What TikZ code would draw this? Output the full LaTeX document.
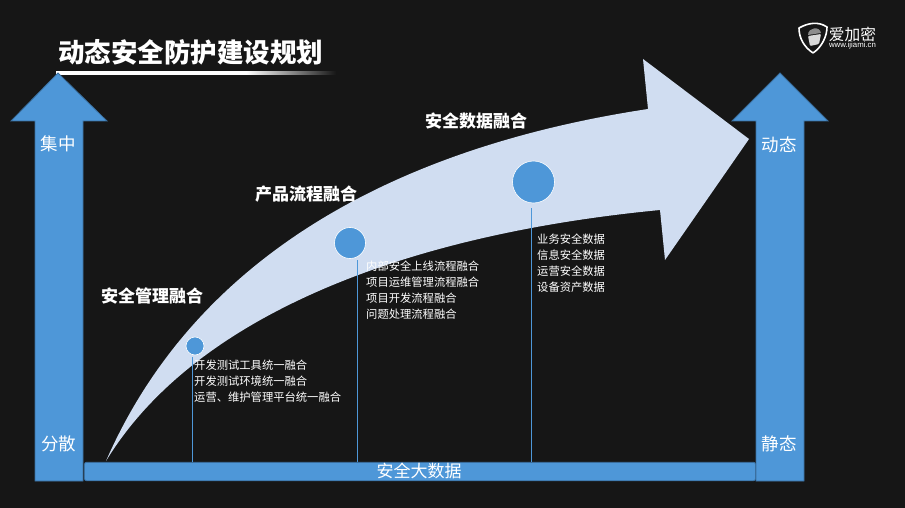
\documentclass[tikz,border=0pt]{standalone}
\usepackage{fontspec}
\setmainfont{Noto Sans CJK SC}
\newfontfamily\latinfont{Liberation Sans}
\usetikzlibrary{positioning,shapes,calc}
\definecolor{bgdark}{HTML}{161616}
\definecolor{blockblue}{HTML}{4E97D8}
\definecolor{edgeblue}{HTML}{3A6F9F}
\definecolor{curvepale}{HTML}{D0DDF1}
\pgfdeclarehorizontalshading{titlerule}{100bp}{color(0bp)=(white); color(59bp)=(white); color(75bp)=(bgdark); color(100bp)=(bgdark)}
\tikzset{
  updir/.style={fill=blockblue, draw=edgeblue, line width=.8pt},
  sidelabel/.style={text=white, font=\fontsize{17.5}{20}\selectfont, inner sep=0},
  stagelabel/.style={text=white, font=\fontsize{17}{20}\selectfont\bfseries, inner sep=0},
  itemlist/.style={text=white, anchor=north west, align=left, inner sep=0,
    font=\fontsize{11.3}{16}\selectfont},
  stage/.style={circle, fill=blockblue, draw=white, line width=.6pt, inner sep=0},
  stem/.style={draw=blockblue, line width=.8pt}
}
\begin{document}
\begin{tikzpicture}[x = 1pt, y = -1pt]
\useasboundingbox (0, 0) rectangle (905, 508);
\fill[bgdark] (0, 0) rectangle (905, 508);

% title
\node[text=white, font=\fontsize{26.5}{30}\selectfont\bfseries, inner sep=0] (title) at (190.5, 52) {动态安全防护建设规划};
\shade[shading=titlerule] (56, 72) rectangle (336, 75);

% side arrows
\draw[updir] (58, 73) -- (107, 121) -- (83, 121) -- (83, 481) -- (35, 481) -- (35, 121) -- (11, 121) -- cycle;
\draw[updir] (780, 73) -- (828, 121) -- (804, 121) -- (804, 481) -- (756, 481) -- (756, 121) -- (732, 121) -- cycle;
\node[sidelabel] (jizhong) at (58, 144) {集中};
\node[sidelabel] (fensan) at (59, 444) {分散};
\node[sidelabel] (dongtai) at (779, 145) {动态};
\node[sidelabel] (jingtai) at (779, 444) {静态};

% big curved arrow
\fill[curvepale] (106, 461) .. controls (205, 235) and (430, 142) .. (648, 109)
  -- (643, 59) -- (749, 139) -- (665, 260) -- (660, 210)
  .. controls (400, 235) and (193, 318) .. (106, 461) -- cycle;

% bottom bar
\node[fill=blockblue, draw=edgeblue, line width=.8pt, rounded corners=2pt, minimum width=671pt, minimum height=18.5pt, inner sep=0] (bar) at (420, 471.5) {};
\node[text=white, font=\fontsize{17}{18}\selectfont, inner sep=0] (bartext) at (419, 471) {安全大数据};

% stages
\node[stage, minimum size=18pt] (s1) at (195, 346) {};
\node[stage, minimum size=31pt] (s2) at (350, 243) {};
\node[stage, minimum size=42pt] (s3) at (533.5, 182) {};
\coordinate (t1) at (192.5, 357);
\coordinate (t2) at (357.5, 260);
\coordinate (t3) at (531.5, 208);
\draw[stem] (t1) -- (t1 |- bar.north);
\draw[stem] (t2) -- (t2 |- bar.north);
\draw[stem] (t3) -- (t3 |- bar.north);

\node[stagelabel] (l1) at (152, 296) {安全管理融合};
\node[stagelabel] (l2) at (306, 194) {产品流程融合};
\node[stagelabel] (l3) at (476, 121) {安全数据融合};

\node[itemlist] (i1) at (194, 360) {开发测试工具统一融合\\开发测试环境统一融合\\运营、维护管理平台统一融合};
\node[itemlist] (i2) at (366, 261) {内部安全上线流程融合\\项目运维管理流程融合\\项目开发流程融合\\问题处理流程融合};
\node[itemlist] (i3) at (537, 234) {业务安全数据\\信息安全数据\\运营安全数据\\设备资产数据};

% logo
\draw[white, line width=1.6pt, line join=round] (813, 53) .. controls (804, 47) and (799, 38) .. (799, 28)
  .. controls (808, 23) and (818, 21) .. (827, 27) .. controls (827, 36) and (822, 47) .. (813, 53);
\fill[white!55!black] (808, 35) .. controls (808, 27) and (820, 26) .. (821, 33) -- cycle;
\fill[white!85!black, rounded corners=1pt] (808, 36) -- (821, 34) -- (819, 44) -- (810, 46) -- cycle;
\node[text=white, font=\fontsize{15.7}{16}\selectfont, inner sep=0] (logoname) at (852.5, 34.5) {爱加密};
\node[text=white, font=\fontsize{7.8}{9}\latinfont, inner sep=0] (logoweb) at (852.5, 45) {www.ijiami.cn};
\end{tikzpicture}
\end{document}
